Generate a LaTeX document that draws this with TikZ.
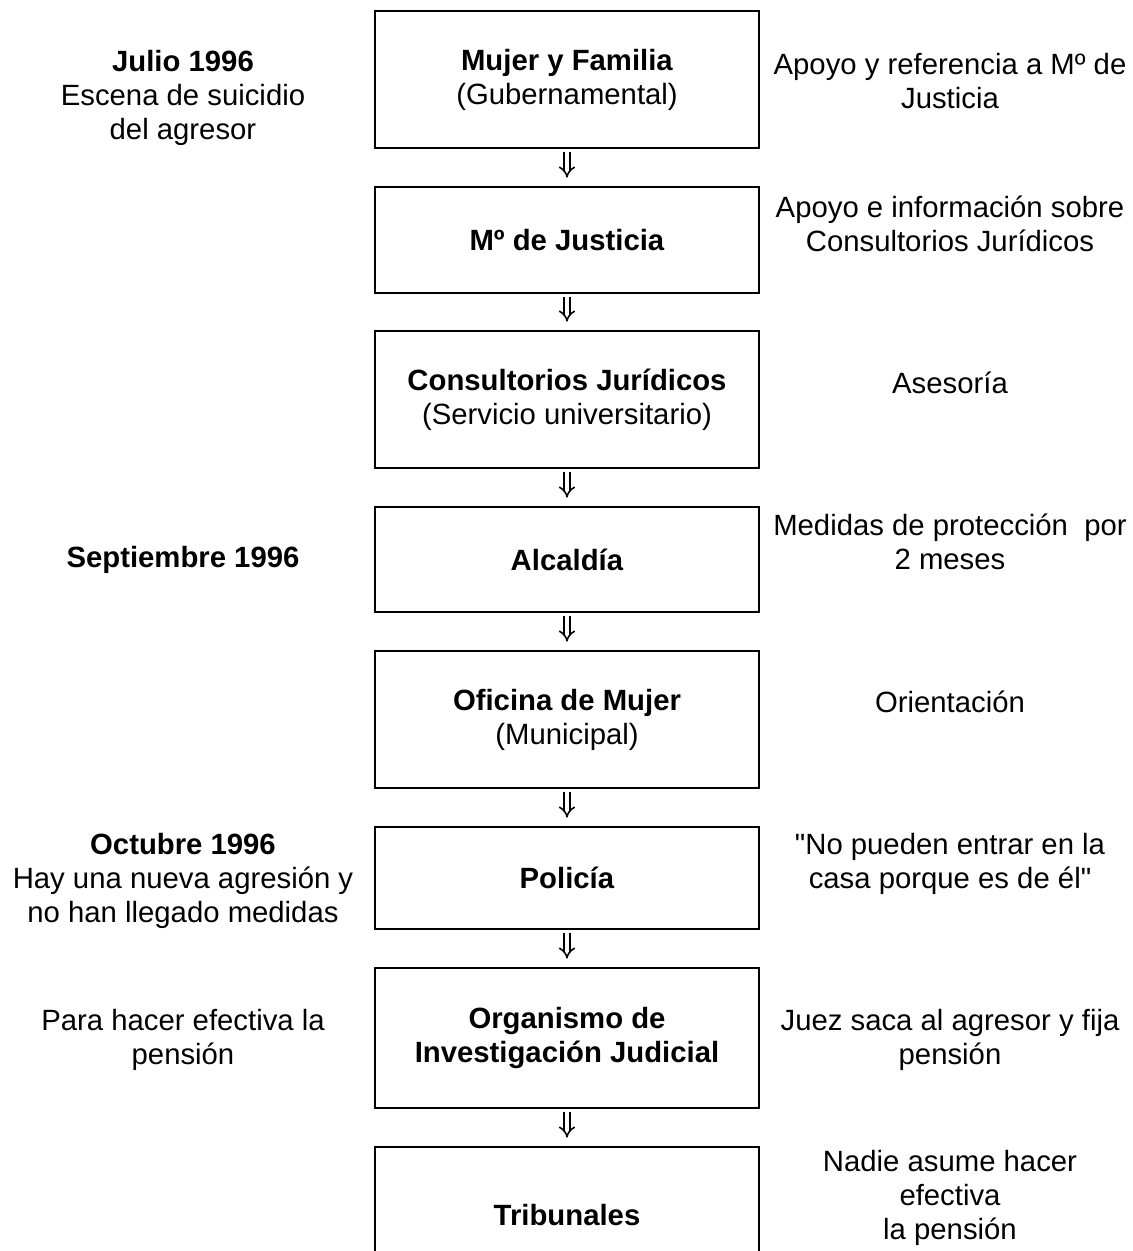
\documentclass[tikz,border=0pt]{standalone}
\usepackage{fontspec}
\setmainfont{Liberation Sans}[Ligatures=TeXOff]
\usetikzlibrary{arrows.meta}

\begin{document}
\begin{tikzpicture}[x=1pt,y=-1pt,
  every node/.style={font=\fontsize{29.3}{34}\selectfont},
  caja/.style={draw,line width=2.8pt,minimum width=384pt,align=center,inner sep=0pt},
  lado/.style={align=center,inner sep=0pt},
  flecha/.style={double,double distance=4pt,line width=1.6pt,-{Implies[scale=1.4]},shorten <=3pt,shorten >=8pt}]
  \clip (0,0) rectangle (1133,1251);
  % boxes in the middle
  \node[caja,minimum height=137pt] (mujer) at (567,79.5) {\textbf{Mujer y Familia}\\(Gubernamental)};
  \node[caja,minimum height=106pt] (justicia) at (567,240) {\textbf{Mº de Justicia}};
  \node[caja,minimum height=137pt] (consultorios) at (567,399.5) {\textbf{Consultorios Jurídicos}\\(Servicio universitario)};
  \node[caja,minimum height=105pt] (alcaldia) at (567,559.5) {\textbf{Alcaldía}};
  \node[caja,minimum height=137pt] (oficina) at (567,719.5) {\textbf{Oficina de Mujer}\\(Municipal)};
  \node[caja,minimum height=102pt] (policia) at (567,878) {\textbf{Policía}};
  \node[caja,minimum height=140pt] (organismo) at (567,1038) {\textbf{Organismo de}\\\textbf{Investigación Judicial}};
  \node[caja,minimum height=137pt] (tribunales) at (567,1215.5) {\textbf{Tribunales}};
  \foreach \a/\b in {mujer/justicia,justicia/consultorios,consultorios/alcaldia,alcaldia/oficina,
    oficina/policia,policia/organismo,organismo/tribunales}
    \draw[flecha] (\a) -- (\b);
  % left column
  \node[lado] (julio) at (183,98) {\textbf{Julio 1996}\\Escena de suicidio\\del agresor};
  \node[lado] (septiembre) at (183,560) {\textbf{Septiembre 1996}};
  \node[lado] (octubre) at (183,880.5) {\textbf{Octubre 1996}\\Hay una nueva agresión y\\no han llegado medidas};
  \node[lado] (efectiva) at (183,1039.5) {Para hacer efectiva la\\pensión};
  % right column
  \node[lado] (referencia) at (950,81) {Apoyo y referencia a Mº de\\Justicia};
  \node[lado] (informacion) at (950,223.5) {Apoyo e información sobre\\Consultorios Jurídicos};
  \node[lado] (asesoria) at (950,383) {Asesoría};
  \node[lado] (medidas) at (950,542) {Medidas de protección\ \ por\\2 meses};
  \node[lado] (orientacion) at (950,702) {Orientación};
  \node[lado] (entrar) at (950,863.5) {"No pueden entrar en la\\casa porque es de él"};
  \node[lado] (juez) at (950,1040) {Juez saca al agresor y fija\\pensión};
  \node[lado] (nadie) at (950,1198) {Nadie asume hacer\\efectiva\\la pensión};
\end{tikzpicture}
\end{document}
